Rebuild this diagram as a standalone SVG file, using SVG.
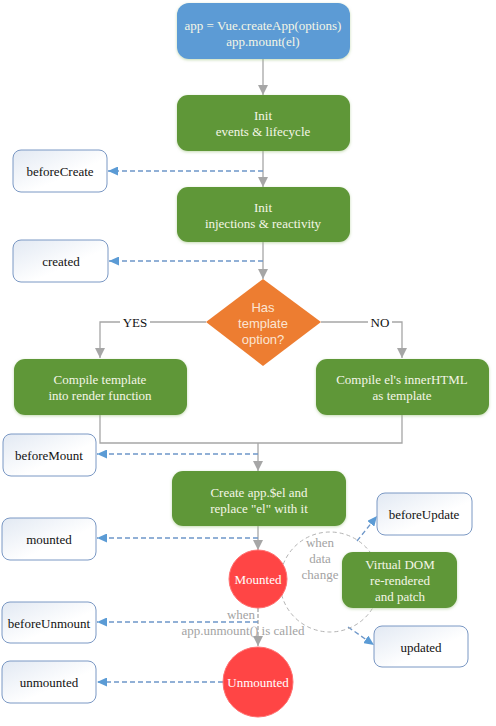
<svg xmlns="http://www.w3.org/2000/svg" width="496" height="726" viewBox="0 0 496 726">
<style>
  text { font-family: "Liberation Serif", "Times New Roman", serif; font-size: 13px; text-anchor: middle; }
  .lt { fill: #F4F6E6; }
  .dk { fill: #111111; }
  .gr { fill: #A3A3A3; }
  .blue { fill: #5B9BD5; }
  .green { fill: #5F9737; }
  .hook { fill: url(#hookGrad); stroke: #7A98C4; stroke-width: 1; }
  .red { fill: #FF4545; stroke: #FF7070; stroke-width: 1; }
  .flow { fill: none; stroke: #A6A6A6; stroke-width: 1.3; }
  .hk { fill: none; stroke: #6E97C9; stroke-width: 1.3; stroke-dasharray: 5 3; }
  .dg { fill: none; stroke: #B3B3B3; stroke-width: 1; stroke-dasharray: 4 3; }
</style>
<defs>
  <linearGradient id="hookGrad" x1="0" y1="0" x2="1" y2="1">
    <stop offset="0" stop-color="#E2E9F3"/>
    <stop offset="0.6" stop-color="#FFFFFF"/>
    <stop offset="1" stop-color="#FFFFFF"/>
  </linearGradient>
  <filter id="glow" x="-10%" y="-20%" width="120%" height="140%">
    <feDropShadow dx="0" dy="1" stdDeviation="1.5" flood-color="#9DC27F" flood-opacity="0.6"/>
  </filter>
  <marker id="ag" markerUnits="userSpaceOnUse" markerWidth="10" markerHeight="10" viewBox="0 0 10 10" refX="10" refY="5" orient="auto">
    <path d="M0,0 L10,5 L0,10 Z" fill="#A6A6A6"/>
  </marker>
  <marker id="ab" markerUnits="userSpaceOnUse" markerWidth="10" markerHeight="9" viewBox="0 0 10 9" refX="10" refY="4.5" orient="auto">
    <path d="M0,0 L10,4.5 L0,9 Z" fill="#5B9BD5"/>
  </marker>
</defs>

<g id="connectors">
  <line class="flow" x1="263" y1="59" x2="263" y2="95" marker-end="url(#ag)"/>
  <line class="flow" x1="263" y1="151" x2="263" y2="187" marker-end="url(#ag)"/>
  <line class="flow" x1="263" y1="242" x2="263" y2="279" marker-end="url(#ag)"/>
  <polyline class="flow" points="206,322 100,322 100,358" marker-end="url(#ag)"/>
  <polyline class="flow" points="321,322 402,322 402,358" marker-end="url(#ag)"/>
  <polyline class="flow" points="100,415 100,443 402,443 402,415"/>
  <line class="flow" x1="258" y1="443" x2="258" y2="471" marker-end="url(#ag)"/>
  <line class="flow" x1="258" y1="526" x2="258" y2="550" marker-end="url(#ag)"/>
  <line class="flow" x1="258" y1="608" x2="258" y2="646" stroke-dasharray="4 2" marker-end="url(#ag)"/>

  <line class="hk" x1="263" y1="171" x2="108" y2="171" marker-end="url(#ab)"/>
  <line class="hk" x1="263" y1="261" x2="109" y2="261" marker-end="url(#ab)"/>
  <line class="hk" x1="258" y1="454" x2="97" y2="454" marker-end="url(#ab)"/>
  <line class="hk" x1="258" y1="538" x2="97" y2="538" marker-end="url(#ab)"/>
  <line class="hk" x1="258" y1="622" x2="97" y2="622" marker-end="url(#ab)"/>
  <line class="hk" x1="223" y1="682" x2="97" y2="682" marker-end="url(#ab)"/>
  <line class="hk" x1="357" y1="541" x2="377" y2="516" marker-end="url(#ab)"/>
  <line class="hk" x1="348" y1="627" x2="374" y2="645" marker-end="url(#ab)"/>

  <circle class="dg" cx="330" cy="582" r="50"/>

  <rect x="120" y="314" width="30" height="16" fill="#FFFFFF"/>
  <text class="dk" x="135" y="326.5">YES</text>
  <rect x="368" y="314" width="24" height="16" fill="#FFFFFF"/>
  <text class="dk" x="380" y="326.5">NO</text>

  <text class="gr" x="241" y="618.5">when</text>
  <text class="gr" x="243" y="634.5">app.unmount() is called</text>
  <text class="gr" x="320" y="546.5">when</text>
  <text class="gr" x="320" y="562.5">data</text>
  <text class="gr" x="320" y="578.5">change</text>
</g>

<g id="start">
  <rect class="blue" x="177" y="3" width="173" height="56" rx="12" filter="url(#glow)"/>
  <text class="lt" x="263" y="29.5">app = Vue.createApp(options)</text>
  <text class="lt" x="263" y="45.5">app.mount(el)</text>
</g>

<g id="init-events">
  <rect class="green" x="177" y="95" width="173" height="56" rx="11" filter="url(#glow)"/>
  <text class="lt" x="263" y="119.5">Init</text>
  <text class="lt" x="263" y="135.5">events &amp; lifecycle</text>
</g>

<g id="beforeCreate">
  <rect class="hook" x="13" y="150" width="94" height="42" rx="8"/>
  <text class="dk" x="60" y="175.5">beforeCreate</text>
</g>

<g id="init-injections">
  <rect class="green" x="177" y="187" width="173" height="55" rx="11" filter="url(#glow)"/>
  <text class="lt" x="263" y="211.5">Init</text>
  <text class="lt" x="263" y="227.5">injections &amp; reactivity</text>
</g>

<g id="created">
  <rect class="hook" x="13" y="240" width="95" height="42" rx="8"/>
  <text class="dk" x="61" y="265.5">created</text>
</g>

<g id="has-template">
  <polygon points="263,279 321,322 263,366 206,322" fill="#ED7D31"/>
  <text x="263" y="311.5" style="font-family:'Liberation Sans', Arial, sans-serif; fill:#FBE5D3">Has</text>
  <text x="263" y="327.5" style="font-family:'Liberation Sans', Arial, sans-serif; fill:#FBE5D3">template</text>
  <text x="263" y="343.5" style="font-family:'Liberation Sans', Arial, sans-serif; fill:#FBE5D3">option?</text>
</g>

<g id="compile-template">
  <rect class="green" x="14" y="359" width="173" height="56" rx="11" filter="url(#glow)"/>
  <text class="lt" x="100" y="383.5">Compile template</text>
  <text class="lt" x="100" y="399.5">into render function</text>
</g>

<g id="compile-el">
  <rect class="green" x="316" y="359" width="173" height="56" rx="11" filter="url(#glow)"/>
  <text class="lt" x="402" y="383.5">Compile el's innerHTML</text>
  <text class="lt" x="402" y="399.5">as template</text>
</g>

<g id="beforeMount">
  <rect class="hook" x="3" y="434" width="93" height="42" rx="8"/>
  <text class="dk" x="49" y="459.5">beforeMount</text>
</g>

<g id="create-el">
  <rect class="green" x="172" y="471" width="174" height="55" rx="11" filter="url(#glow)"/>
  <text class="lt" x="259" y="496.5">Create app.$el and</text>
  <text class="lt" x="259" y="512.5">replace "el" with it</text>
</g>

<g id="mounted-hook">
  <rect class="hook" x="2" y="518" width="94" height="42" rx="8"/>
  <text class="dk" x="49" y="543.5">mounted</text>
</g>

<g id="mounted-state">
  <circle class="red" cx="258" cy="579" r="29"/>
  <text class="lt" x="258" y="583.5" style="fill:#FFFFFF">Mounted</text>
</g>

<g id="beforeUpdate">
  <rect class="hook" x="377" y="493" width="95" height="42" rx="8"/>
  <text class="dk" x="424" y="518.5">beforeUpdate</text>
</g>

<g id="virtual-dom">
  <rect class="green" x="342" y="552" width="115" height="56" rx="11" filter="url(#glow)"/>
  <text class="lt" x="400" y="568.5">Virtual DOM</text>
  <text class="lt" x="400" y="584.5">re-rendered</text>
  <text class="lt" x="400" y="600.5">and patch</text>
</g>

<g id="updated">
  <rect class="hook" x="374" y="626" width="94" height="41" rx="8"/>
  <text class="dk" x="421" y="651.5">updated</text>
</g>

<g id="beforeUnmount">
  <rect class="hook" x="2" y="602" width="94" height="41" rx="8"/>
  <text class="dk" x="49" y="627.5">beforeUnmount</text>
</g>

<g id="unmounted-state">
  <circle class="red" cx="258" cy="682" r="35"/>
  <text class="lt" x="258" y="686.5" style="fill:#FFFFFF">Unmounted</text>
</g>

<g id="unmounted-hook">
  <rect class="hook" x="2" y="661" width="94" height="42" rx="8"/>
  <text class="dk" x="49" y="686.5">unmounted</text>
</g>
</svg>
